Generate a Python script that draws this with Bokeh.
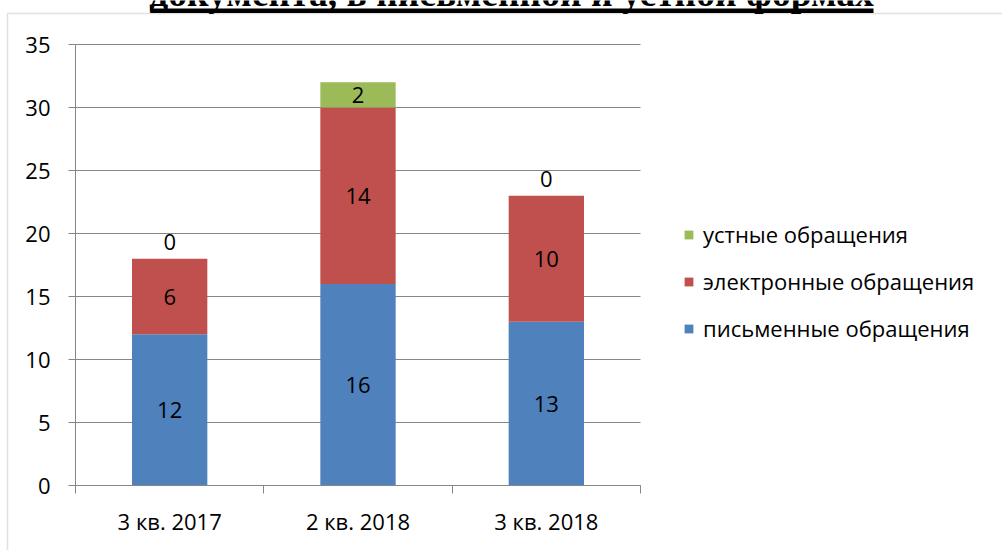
from bokeh.plotting import figure
from bokeh.models import (ColumnDataSource, FixedTicker, LabelSet, Label, Legend,
                          LegendItem, BoxAnnotation, Range1d, LinearAxis)
from bokeh.embed import file_html
from bokeh.resources import INLINE
from bokeh.core.properties import value

categories = ["3 кв. 2017", "2 кв. 2018", "3 кв. 2018"]
pismennye = [12, 16, 13]
elektronnye = [6, 14, 10]
ustnye = [0, 2, 0]
series_names = ["письменные обращения", "электронные обращения", "устные обращения"]
colors = ["#4F81BD", "#C0504D", "#9BBB59"]
y_ticks = [0, 5, 10, 15, 20, 25, 30, 35]
title_text = "документа, в письменной и устной формах"

FONT = "Open Sans"
FS = "22px"
GRAY = "#868686"
W, H = 1002, 550
# plot area in pixels: left 75, right 640, top 44, bottom 485
PL, PR, PT, PB = 75, 640, 44, 485
ncat = len(categories)
ymax = y_ticks[-1]
xpx = (PR - PL) / ncat
ypx = (PB - PT) / ymax

xs = [i + 0.5 for i in range(ncat)]
src = ColumnDataSource(dict(x=xs, p=pismennye, e=elektronnye, u=ustnye))

p = figure(width=W, height=H, output_backend="svg", toolbar_location=None,
           x_range=Range1d(-PL / xpx, (W - PL) / xpx),
           y_range=Range1d(-(H - PB) / ypx, ymax + PT / ypx),
           min_border=0, x_axis_type=None, y_axis_type=None)
p.outline_line_color = None
p.background_fill_color = "white"
p.border_fill_color = "white"

yaxis = LinearAxis(fixed_location=0, bounds=(0, ymax), ticker=FixedTicker(ticks=y_ticks))
xaxis = LinearAxis(fixed_location=0, bounds=(0, ncat),
                   ticker=FixedTicker(ticks=xs, minor_ticks=list(range(ncat + 1))))
p.add_layout(yaxis, "left")
p.add_layout(xaxis, "below")

yaxis.axis_line_color = GRAY
yaxis.major_tick_line_color = GRAY
yaxis.major_tick_out = 7
yaxis.major_tick_in = 0
yaxis.minor_tick_line_color = None
yaxis.major_label_standoff = 18
yaxis.major_label_text_font = FONT
yaxis.major_label_text_font_size = FS
yaxis.major_label_text_color = "black"

xaxis.major_label_overrides = {x: c for x, c in zip(xs, categories)}
xaxis.axis_line_color = GRAY
xaxis.major_tick_line_color = None
xaxis.major_tick_out = 0
xaxis.minor_tick_line_color = GRAY
xaxis.minor_tick_out = 8
xaxis.minor_tick_in = 0
xaxis.major_label_standoff = 12
xaxis.major_label_text_font = FONT
xaxis.major_label_text_font_size = FS
xaxis.major_label_text_color = "black"

# horizontal gridlines at the y ticks, spanning the category area
p.segment(x0=[0] * len(y_ticks), x1=[ncat] * len(y_ticks), y0=y_ticks, y1=y_ticks,
          line_color=GRAY, line_width=1, level="underlay")

rs = p.vbar_stack(["p", "e", "u"], x="x", width=0.4, source=src, color=colors,
                  line_color=None)

# data labels
lx, ly, lt, zx, zy, zt = [], [], [], [], [], []
for i in range(ncat):
    bottom = 0
    for vals in (pismennye, elektronnye, ustnye):
        v = vals[i]
        if v > 0:
            lx.append(xs[i]); ly.append(bottom + v / 2); lt.append(str(v))
        else:
            zx.append(xs[i]); zy.append(bottom); zt.append(str(v))
        bottom += v
lab_src = ColumnDataSource(dict(x=lx, y=ly, t=lt))
zero_src = ColumnDataSource(dict(x=zx, y=zy, t=zt))
p.add_layout(LabelSet(x="x", y="y", text="t", source=lab_src, text_align="center",
                      text_baseline="middle", text_font=value(FONT),
                      text_font_size=value(FS), text_color="black"))
p.add_layout(LabelSet(x="x", y="y", text="t", source=zero_src, text_align="center",
                      text_baseline="alphabetic", y_offset=9, text_font=value(FONT),
                      text_font_size=value(FS), text_color="black"))

# legend
items = [LegendItem(label=series_names[k], renderers=[rs[k]]) for k in (2, 1, 0)]
legend = Legend(items=items, location=(683, 207), glyph_width=11, glyph_height=11,
                label_text_font=FONT, label_text_font_size=FS, label_text_color="black",
                padding=0, margin=0,
                border_line_color=None, background_fill_alpha=0, spacing=17,
                label_standoff=9, label_height=20)
p.add_layout(legend)

# page frame lines and cropped title
p.add_layout(BoxAnnotation(left=7, right=1100, top=13, bottom=600,
                           left_units="canvas", right_units="canvas",
                           top_units="canvas", bottom_units="canvas",
                           fill_alpha=0, line_color="#9a9a9a", line_width=1.5))
p.add_layout(Label(x=511, y=H + 7, x_units="screen", y_units="screen", text=title_text,
                   text_align="center", text_baseline="alphabetic",
                   text_font="Liberation Serif", text_font_style="bold",
                   text_font_size="37.5px", text_color="black"))
p.add_layout(BoxAnnotation(left=150, right=873, top=8, bottom=12.5,
                           left_units="canvas", right_units="canvas",
                           top_units="canvas", bottom_units="canvas",
                           fill_color="black", fill_alpha=1, line_color=None))

open("out.html", "w").write(file_html(p, INLINE))
